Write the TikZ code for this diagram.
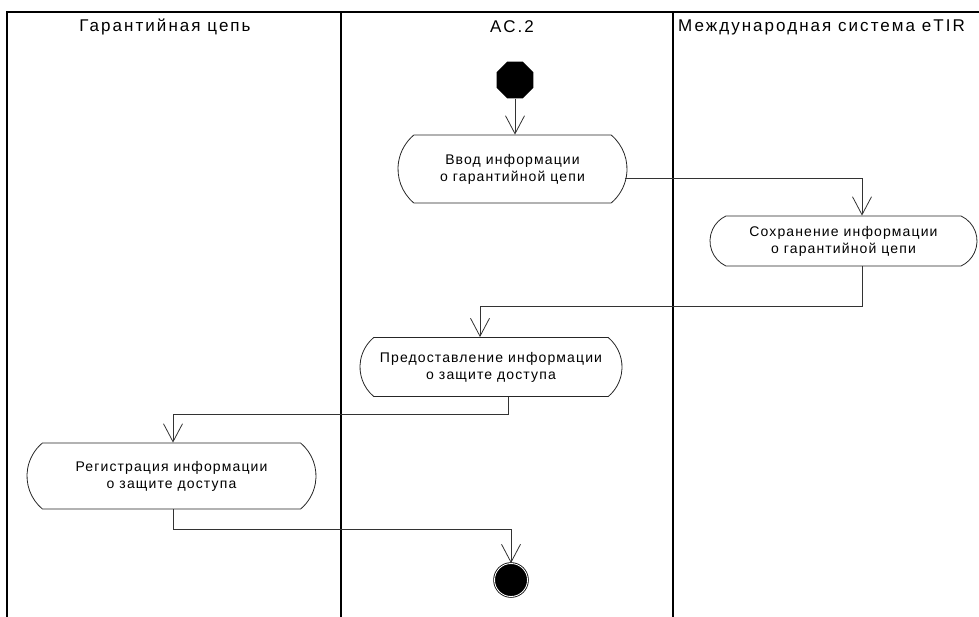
\documentclass[tikz,border=0pt]{standalone}
\usepackage{fontspec}
\setmainfont{Liberation Sans}
\newfontfamily\headfont[LetterSpace=12]{Liberation Sans}
\newfontfamily\actfont[LetterSpace=8]{Liberation Sans}
\usetikzlibrary{arrows.meta,shapes.misc,shapes.geometric,calc}

\begin{document}
\begin{tikzpicture}[x=1pt,y=-1pt,
  frame/.style={draw=black, line width=1.8pt},
  lane/.style={draw=black, line width=2.4pt},
  head/.style={font=\headfont\fontsize{17}{20}\selectfont, inner sep=0pt},
  activity/.style={draw=black!85, line width=0.8pt, rounded rectangle,
    rounded rectangle arc length=100, align=center, inner sep=0pt,
    font=\actfont\fontsize{14}{17}\selectfont},
  link/.style={draw=black!80, line width=0.8pt},
  flow/.style={link, -{Straight Barb[length=18pt,width=19pt,line width=0.8pt]}},
  initial/.style={regular polygon, regular polygon sides=8, fill=black,
    minimum size=40pt, inner sep=0pt},
  final/.style={circle, fill=black, draw=black, line width=0.8pt,
    double=white, double distance=0.9pt, minimum size=33pt, inner sep=0pt}]

\useasboundingbox (0,0) rectangle (979,617);

% swimlane frame
\draw[frame] (7,617) -- (7,12) -- (979,12);
\draw[lane] (341,12) -- (341,617);
\draw[lane] (673,12) -- (673,617);

% lane headers
\node[head] (h1) at (165,27) {Гарантийная цепь};
\node[head] (h2) at (512,27) {AC.2};
\node[head, anchor=west] (h3) at (678,27) {Международная система eTIR};

% activities
\node[initial] (start) at (515,80) {};
\node[activity, minimum width=229pt, minimum height=68pt] (a1) at (512.5,169)
  {Ввод информации\\о гарантийной цепи};
\node[activity, minimum width=267pt, minimum height=50pt,
  rounded rectangle arc length=130] (a2) at (843.5,241)
  {Сохранение информации\\о гарантийной цепи};
\node[activity, minimum width=262pt, minimum height=59pt] (a3) at (491,367)
  {Предоставление информации\\о защите доступа};
\node[activity, minimum width=289pt, minimum height=66pt] (a4) at (171.5,476)
  {Регистрация информации\\о защите доступа};
\node[final] (end) at (511,580) {};

% control flow
\draw[flow] (start.south) -- (start.south |- a1.north);
\draw[flow] ($(a1.east)+(-2,9)$) -| ([xshift=18.5pt]a2.north);
\draw[flow] ([xshift=18.5pt]a2.south) -- ++(0,40) -| ([xshift=-11pt]a3.north);
\draw[flow] ([xshift=17pt]a3.south) -- ++(0,17) -| ([xshift=1.5pt]a4.north);
\draw[flow] ([xshift=1.5pt]a4.south) -- ++(0,20) -| (end.north);

\end{tikzpicture}
\end{document}
